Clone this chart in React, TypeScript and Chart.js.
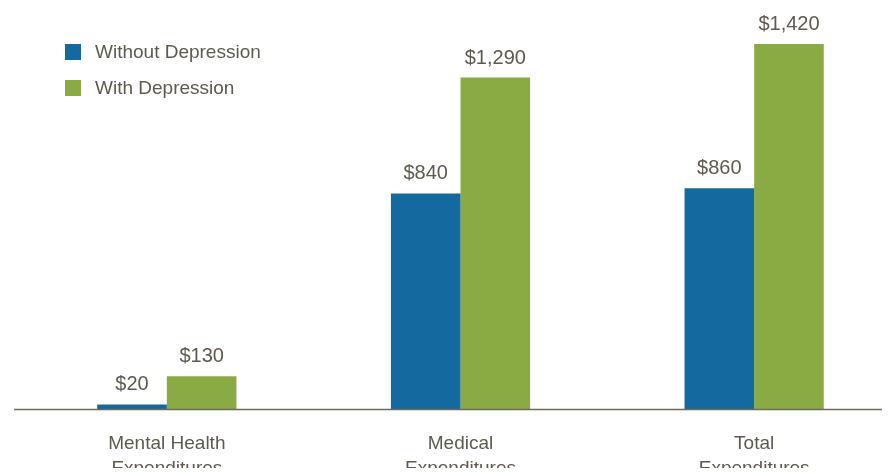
import React, { useEffect, useRef } from "react";
import { Chart, registerables } from "chart.js";

Chart.register(...registerables);

const categories: string[][] = [
  ["Mental Health", "Expenditures"],
  ["Medical", "Expenditures"],
  ["Total", "Expenditures"],
];
const seriesNames = ["Without Depression", "With Depression"];
const withoutDepression = [20, 840, 860];
const withDepression = [130, 1290, 1420];
const seriesColors = ["#146a9e", "#8aab43"];

const TEXT = "#5f5a4e";
const FONT = "'Liberation Sans', Arial, sans-serif";

const fmt = (v: number) => "$" + v.toLocaleString("en-US");

const overlayPlugin = {
  id: "overlay",
  afterDatasetsDraw(chart: any) {
    const { ctx, chartArea } = chart;
    ctx.save();
    // axis line
    const base = chart.scales.y.getPixelForValue(0);
    ctx.strokeStyle = "#6e6a5c";
    ctx.lineWidth = 1.5;
    ctx.beginPath();
    ctx.moveTo(chartArea.left - 6, base);
    ctx.lineTo(chart.width - 22, base);
    ctx.stroke();
    // value labels
    ctx.fillStyle = TEXT;
    ctx.font = `20px ${FONT}`;
    ctx.textAlign = "center";
    ctx.textBaseline = "alphabetic";
    chart.data.datasets.forEach((ds: any, i: number) => {
      const meta = chart.getDatasetMeta(i);
      meta.data.forEach((bar: any, j: number) => {
        ctx.fillText(fmt(ds.data[j]), bar.x, bar.y - 14);
      });
    });
    // legend
    ctx.font = `19px ${FONT}`;
    ctx.textAlign = "left";
    ctx.textBaseline = "middle";
    chart.data.datasets.forEach((ds: any, i: number) => {
      const cy = 52 + i * 36;
      ctx.fillStyle = ds.backgroundColor;
      ctx.fillRect(65, cy - 8, 16, 16);
      ctx.fillStyle = TEXT;
      ctx.fillText(ds.label, 95, cy + 1);
    });
    ctx.restore();
  },
};

export default function App() {
  const ref = useRef<HTMLCanvasElement>(null);
  useEffect(() => {
    if (!ref.current) return;
    const chart = new Chart(ref.current, {
      type: "bar",
      data: {
        labels: categories,
        datasets: [
          { label: seriesNames[0], data: withoutDepression, backgroundColor: seriesColors[0] },
          { label: seriesNames[1], data: withDepression, backgroundColor: seriesColors[1] },
        ],
      },
      options: {
        animation: false,
        responsive: false,
        maintainAspectRatio: false,
        layout: { padding: { left: 20, right: 9, top: 23.5, bottom: 0 } },
        datasets: { bar: { categoryPercentage: 0.474, barPercentage: 1.0 } },
        plugins: { legend: { display: false }, tooltip: { enabled: false } },
        scales: {
          x: {
            grid: { display: false, drawTicks: false },
            border: { display: false },
            ticks: {
              color: TEXT,
              font: { family: FONT, size: 19, lineHeight: 1.3 },
              padding: 22,
              maxRotation: 0,
              autoSkip: false,
            },
          },
          y: {
            display: false,
            min: 0,
            max: 1500,
          },
        },
      },
      plugins: [overlayPlugin],
    });
    return () => chart.destroy();
  }, []);
  return (
    <div style={{ margin: -8, width: 890, height: 476, overflow: "hidden", position: "relative" }}>
      <canvas ref={ref} width={910} height={503} style={{ display: "block", width: 910, height: 503 }} />
    </div>
  );
}
